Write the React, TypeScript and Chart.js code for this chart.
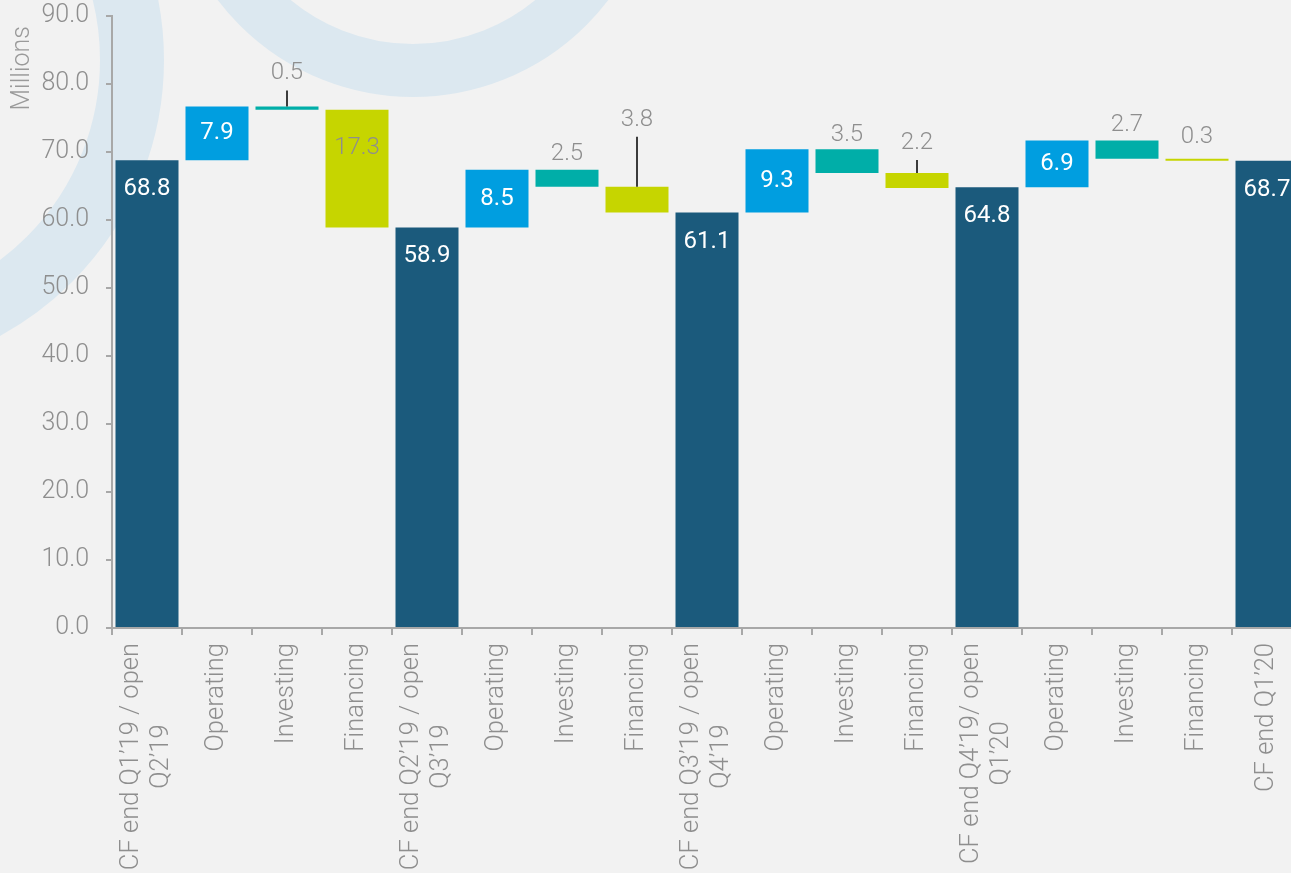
import React, { useEffect, useRef } from 'react';
import { Chart, registerables } from 'chart.js';

Chart.register(...registerables);

// ---- Data ----
const categories: string[][] = [
  ["CF end Q1’19 / open", "Q2’19"],
  ["Operating"],
  ["Investing"],
  ["Financing"],
  ["CF end Q2’19 / open", "Q3’19"],
  ["Operating"],
  ["Investing"],
  ["Financing"],
  ["CF end Q3’19 / open", "Q4’19"],
  ["Operating"],
  ["Investing"],
  ["Financing"],
  ["CF end Q4’19/ open", "Q1’20"],
  ["Operating"],
  ["Investing"],
  ["Financing"],
  ["CF end Q1’20"],
];

const stepKinds: string[] = [
  'total', 'operating', 'investing', 'financing',
  'total', 'operating', 'investing', 'financing',
  'total', 'operating', 'investing', 'financing',
  'total', 'operating', 'investing', 'financing',
  'total',
];

const amounts: number[] = [
  68.8, 7.9, -0.5, -17.3,
  58.9, 8.5, -2.5, -3.8,
  61.1, 9.3, -3.5, -2.2,
  64.8, 6.9, -2.7, -0.3,
  68.7,
];

const yTicks: number[] = [0, 10, 20, 30, 40, 50, 60, 70, 80, 90];
const yAxisTitle = 'Millions';

// ---- Presentation ----
const kindColors: Record<string, string> = {
  total: '#1b5a7c',
  operating: '#009ee0',
  investing: '#00aea8',
  financing: '#c6d500',
};
// pixel lift of outside labels above the bar top (Excel-like placement)
const outsideLabelLift: number[] = [0, 0, 33, 0, 0, 0, 16, 67, 0, 0, 14, 30, 0, 0, 15, 22, 0];

const FONT = 'Roboto, "Noto Sans", sans-serif';
const GRAY = '#8e8e8e';
const AXIS = '#a8a8a8';

// floating ranges built from the amounts
function buildRanges(): [number, number][] {
  const out: [number, number][] = [];
  let running = 0;
  amounts.forEach((v, i) => {
    if (stepKinds[i] === 'total') {
      out.push([0, v]);
      running = v;
    } else {
      const next = Math.round((running + v) * 10) / 10;
      out.push([running, next]);
      running = next;
    }
  });
  return out;
}

const backgroundPlugin = {
  id: 'bgRings',
  beforeDraw(chart: any) {
    const { ctx, width, height } = chart;
    ctx.save();
    ctx.fillStyle = '#f2f2f2';
    ctx.fillRect(0, 0, width, height);
    ctx.strokeStyle = '#dce8f0';
    ctx.lineWidth = 64;
    ctx.beginPath();
    ctx.arc(-150, 60, 282, 0, Math.PI * 2);
    ctx.stroke();
    ctx.lineWidth = 53;
    ctx.beginPath();
    ctx.arc(413, -148, 218.5, 0, Math.PI * 2);
    ctx.stroke();
    ctx.restore();
  },
};

const dataLabelPlugin = {
  id: 'waterfallLabels',
  afterDatasetsDraw(chart: any) {
    const { ctx } = chart;
    const meta = chart.getDatasetMeta(0);
    ctx.save();
    ctx.textAlign = 'center';
    ctx.textBaseline = 'middle';
    meta.data.forEach((el: any, i: number) => {
      const p = el.getProps(['x', 'y', 'base'], true);
      const top = Math.min(p.y, p.base);
      const bottom = Math.max(p.y, p.base);
      const h = bottom - top;
      const kind = stepKinds[i];
      const text = Math.abs(amounts[i]).toFixed(1);
      let ly: number;
      let color: string;
      let weight = '400';
      if (kind === 'total') {
        ly = top + 29;
        color = '#ffffff';
      } else if (kind === 'operating') {
        ly = (top + bottom) / 2;
        color = '#ffffff';
      } else if (h > 40) {
        ly = top + 38;
        color = GRAY;
        weight = '300';
      } else {
        const lift = outsideLabelLift[i] || 16;
        ly = top - lift;
        color = GRAY;
        weight = '300';
        if (lift >= 25) {
          ctx.strokeStyle = '#3c3c3c';
          ctx.lineWidth = 2;
          ctx.beginPath();
          ctx.moveTo(p.x, top);
          ctx.lineTo(p.x, ly + 17);
          ctx.stroke();
        }
      }
      ctx.font = `${weight} 24px ${FONT}`;
      ctx.fillStyle = color;
      ctx.fillText(text, p.x, ly);
    });
    ctx.restore();
  },
};

const xLabelPlugin = {
  id: 'xLabels',
  afterDraw(chart: any) {
    const { ctx } = chart;
    const xs = chart.scales.x;
    const yTop = xs.top + 15;
    const lh = 30;
    ctx.save();
    ctx.font = `300 25.5px ${FONT}`;
    ctx.fillStyle = GRAY;
    ctx.textAlign = 'center';
    ctx.textBaseline = 'middle';
    categories.forEach((lines, i) => {
      const x = xs.getPixelForValue(i);
      const w = Math.max(...lines.map((l) => ctx.measureText(l).width));
      const n = lines.length;
      lines.forEach((line, j) => {
        const cx = x + (j - (n - 1) / 2) * lh;
        ctx.save();
        ctx.translate(cx, yTop);
        ctx.rotate(-Math.PI / 2);
        ctx.fillText(line, -w / 2, 0);
        ctx.restore();
      });
    });
    ctx.restore();
  },
};

const yTitlePlugin = {
  id: 'yTitle',
  afterDraw(chart: any) {
    const { ctx } = chart;
    ctx.save();
    ctx.font = `300 25px ${FONT}`;
    ctx.fillStyle = '#9a9a9a';
    ctx.textAlign = 'right';
    ctx.textBaseline = 'middle';
    ctx.translate(23, 26);
    ctx.rotate(-Math.PI / 2);
    ctx.fillText(yAxisTitle, 0, 0);
    ctx.restore();
  },
};

export default function App() {
  const canvasRef = useRef<HTMLCanvasElement | null>(null);

  useEffect(() => {
    const canvas = canvasRef.current;
    if (!canvas) return;
    const ranges = buildRanges();
    const colors = stepKinds.map((k) => kindColors[k]);
    const chart = new Chart(canvas, {
      type: 'bar',
      data: {
        labels: categories as any,
        datasets: [
          {
            data: ranges as any,
            backgroundColor: colors,
            borderWidth: 0,
            barPercentage: 0.9,
            categoryPercentage: 1,
          },
        ],
      },
      options: {
        responsive: false,
        animation: false,
        layout: { padding: { top: 16, left: 0, right: 0, bottom: 0 } },
        plugins: {
          legend: { display: false },
          tooltip: { enabled: false },
        },
        scales: {
          x: {
            offset: true,
            grid: {
              offset: true,
              drawOnChartArea: false,
              drawTicks: true,
              tickLength: 7,
              color: AXIS,
              lineWidth: 2,
            },
            border: { color: AXIS, width: 2 },
            ticks: { display: false },
            afterFit: (s: any) => {
              s.height = 245;
              s.paddingLeft = 0;
              s.paddingRight = 0;
            },
          },
          y: {
            min: 0,
            max: 90,
            afterBuildTicks: (s: any) => {
              s.ticks = yTicks.map((v) => ({ value: v }));
            },
            ticks: {
              callback: (v: any) => Number(v).toFixed(1),
              color: GRAY,
              font: { family: FONT, size: 25, weight: '300' as any },
              padding: 17,
            },
            grid: {
              drawOnChartArea: false,
              drawTicks: true,
              tickLength: 6,
              color: AXIS,
              lineWidth: 2,
            },
            border: { color: AXIS, width: 2 },
            afterFit: (s: any) => {
              s.width = 112;
              s.paddingTop = 0;
              s.paddingBottom = 0;
            },
          },
        },
      },
      plugins: [backgroundPlugin, dataLabelPlugin, xLabelPlugin, yTitlePlugin],
    });
    return () => chart.destroy();
  }, []);

  return (
    <div
      style={{
        position: 'absolute',
        left: 0,
        top: 0,
        width: 1291,
        height: 873,
        overflow: 'hidden',
        background: '#f2f2f2',
      }}
    >
      <canvas ref={canvasRef} width={1302} height={873} style={{ display: 'block' }} />
    </div>
  );
}
